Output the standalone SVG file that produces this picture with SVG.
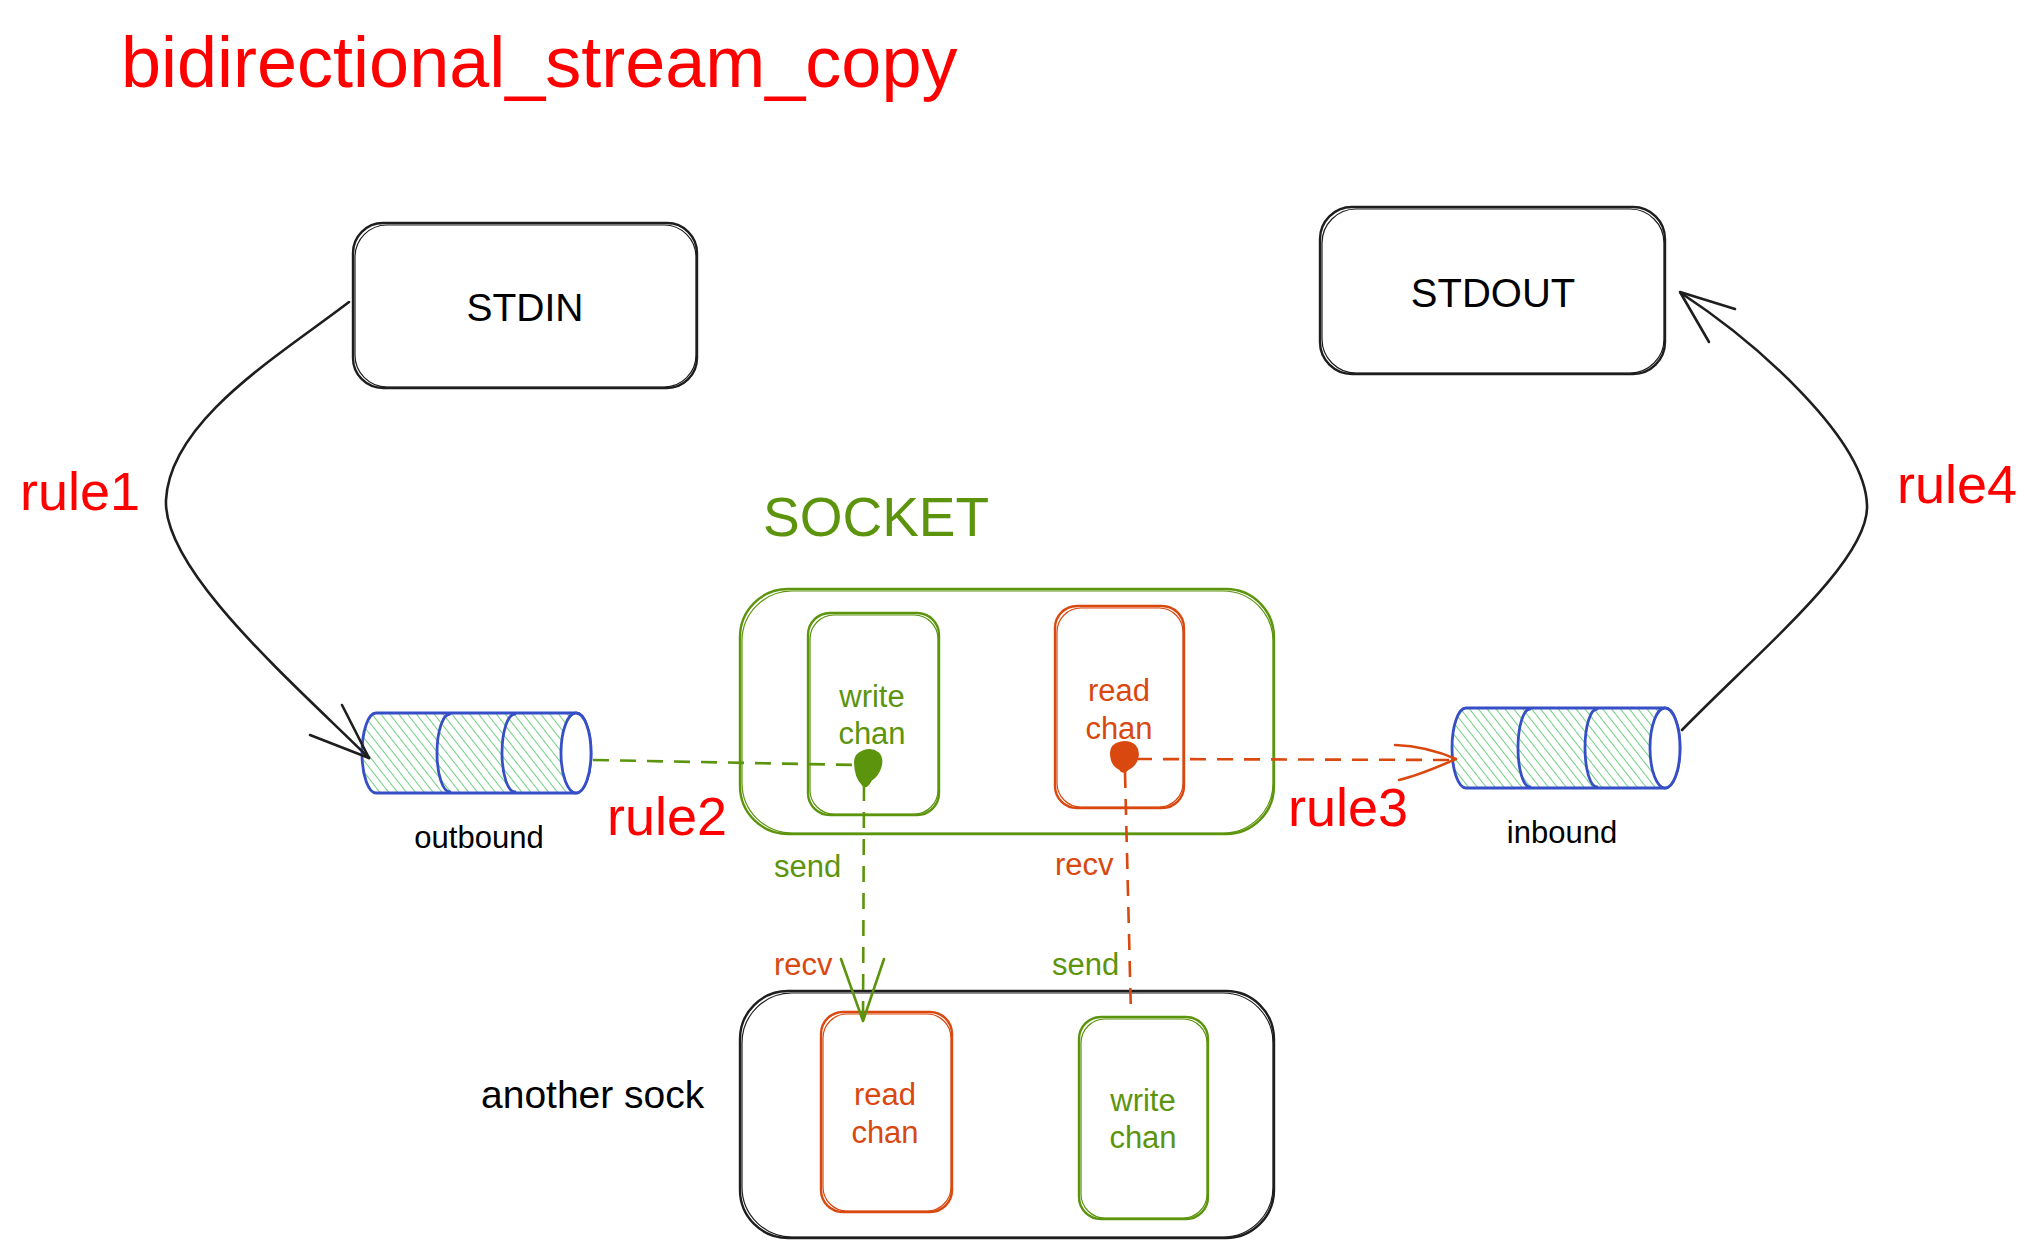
<svg xmlns="http://www.w3.org/2000/svg" width="2044" height="1258" viewBox="0 0 2044 1258">
<style>
text{font-family:"Liberation Sans",Arial,sans-serif}
.red{fill:#ff0000;font-size:54px}
.lbl{font-size:31px}
.g{fill:#5c940d}
.o{fill:#d9480f}
.k{fill:#000}
.box{fill:none;stroke-width:2.4;stroke-linecap:round;stroke-linejoin:round}
.box2{fill:none;stroke-width:1.2}
.bk{stroke:#1e1e1e}
.gs{stroke:#5c940d}
.os{stroke:#d9480f}
.cyl{stroke:#364fc7;stroke-width:2.8;stroke-linecap:round;stroke-linejoin:round}
.line{fill:none;stroke-width:2.6;stroke-linecap:round;stroke-linejoin:round}
.dash{fill:none;stroke-width:2.6;stroke-dasharray:16 11}
</style>
<defs>
<pattern id="hatch" width="7" height="10" patternUnits="userSpaceOnUse" patternTransform="rotate(-38)">
<line x1="0" y1="0" x2="0" y2="10" stroke="#40c057" stroke-width="1.5"/>
</pattern>
</defs>
<rect width="2044" height="1258" fill="#fff"/>

<text id="title" x="121" y="87" style="font-size:72px;fill:#ff0000">bidirectional_stream_copy</text>

<g id="stdin">
<rect class="box bk" x="353" y="223" width="344" height="165" rx="30"/>
<rect class="box2 bk" x="355" y="225" width="341" height="162" rx="32"/>
<text x="525" y="321" text-anchor="middle" style="font-size:39px" class="k">STDIN</text>
</g>

<g id="stdout">
<rect class="box bk" x="1320" y="207" width="345" height="167" rx="32"/>
<rect class="box2 bk" x="1322" y="209" width="342" height="164" rx="34"/>
<text x="1493" y="307" text-anchor="middle" style="font-size:40px" class="k">STDOUT</text>
</g>

<g id="socket">
<text x="763" y="536" style="font-size:55px" class="g">SOCKET</text>
<rect class="box gs" x="740" y="589" width="534" height="245" rx="48"/>
<rect class="box2 gs" x="742" y="591" width="531" height="242" rx="50"/>
</g>

<g id="socket-write-chan">
<rect class="box gs" x="808" y="613" width="131" height="202" rx="22"/>
<rect class="box2 gs" x="810" y="615" width="128" height="199" rx="24"/>
<text x="872" y="707" text-anchor="middle" class="lbl g">write</text>
<text x="872" y="744" text-anchor="middle" class="lbl g">chan</text>
</g>

<g id="socket-read-chan">
<rect class="box os" x="1055" y="606" width="129" height="202" rx="22"/>
<rect class="box2 os" x="1057" y="608" width="126" height="199" rx="24"/>
<text x="1119" y="701" text-anchor="middle" class="lbl o">read</text>
<text x="1119" y="739" text-anchor="middle" class="lbl o">chan</text>
</g>

<g id="another-sock">
<text x="481" y="1108" style="font-size:39px" class="k">another sock</text>
<rect class="box bk" x="740" y="991" width="534" height="247" rx="48"/>
<rect class="box2 bk" x="742" y="993" width="531" height="244" rx="50"/>
</g>

<g id="another-read-chan">
<rect class="box os" x="821" y="1012" width="131" height="200" rx="22"/>
<rect class="box2 os" x="823" y="1014" width="128" height="197" rx="24"/>
<text x="885" y="1105" text-anchor="middle" class="lbl o">read</text>
<text x="885" y="1143" text-anchor="middle" class="lbl o">chan</text>
</g>

<g id="another-write-chan">
<rect class="box gs" x="1079" y="1017" width="129" height="202" rx="22"/>
<rect class="box2 gs" x="1081" y="1019" width="126" height="199" rx="24"/>
<text x="1143" y="1111" text-anchor="middle" class="lbl g">write</text>
<text x="1143" y="1148" text-anchor="middle" class="lbl g">chan</text>
</g>

<g id="outbound">
<path d="M376 713 H576 A15 40 0 0 1 576 793 H376 A14 40 0 0 1 376 713 Z" fill="url(#hatch)" class="cyl"/>
<path d="M450 714 A13 39 0 0 0 450 792" fill="none" class="cyl"/>
<path d="M515 714 A13 39 0 0 0 515 792" fill="none" class="cyl"/>
<ellipse cx="576" cy="753" rx="15" ry="40" fill="#fff" class="cyl"/>
<text x="479" y="848" text-anchor="middle" class="lbl k">outbound</text>
</g>

<g id="inbound">
<path d="M1466 708 H1665 A15 40 0 0 1 1665 788 H1466 A14 40 0 0 1 1466 708 Z" fill="url(#hatch)" class="cyl"/>
<path d="M1530 709 A12 39 0 0 0 1530 787" fill="none" class="cyl"/>
<path d="M1597 709 A12 39 0 0 0 1597 787" fill="none" class="cyl"/>
<ellipse cx="1665" cy="748" rx="15" ry="40" fill="#fff" class="cyl"/>
<text x="1562" y="843" text-anchor="middle" class="lbl k">inbound</text>
</g>

<g id="connectors">
<path class="line bk" d="M349 302 C280 355 170 420 166 500 C163 570 290 680 369 758"/>
<path class="line bk" d="M310 735 L369 758 M342 705 L369 758"/>
<path class="line bk" d="M1682 730 C1760 650 1870 560 1867 505 C1865 440 1760 345 1681 293"/>
<path class="line bk" d="M1735 309 L1680 292 L1709 342"/>
<path class="dash gs" d="M593 760 L856 765"/>
<path class="dash gs" d="M864 785 L863 1020"/>
<path class="line gs" d="M841 959 L863 1021 L884 959"/>
<path d="M855 762 C855 751 870 747 878 753 C885 760 880 774 871 780 C869 784 866 788 863 785 C857 779 855 770 855 762 Z" fill="#5c940d" stroke="#5c940d" stroke-width="2"/>
<path class="dash os" d="M1136 759 L1454 760"/>
<path class="dash os" d="M1125 772 L1131 1015"/>
<path class="line os" d="M1395 745 C1420 746 1440 752 1456 759 C1440 766 1420 775 1399 780"/>
<path d="M1111 753 C1111 742 1127 739 1135 746 C1141 753 1137 765 1128 769 C1126 772 1122 773 1120 769 C1113 766 1111 760 1111 753 Z" fill="#d9480f" stroke="#d9480f" stroke-width="2"/>
</g>

<g id="labels">
<text x="20" y="510" class="red">rule1</text>
<text x="1897" y="503" class="red">rule4</text>
<text x="607" y="835" class="red">rule2</text>
<text x="1288" y="826" class="red">rule3</text>
<text x="774" y="877" class="lbl g">send</text>
<text x="1055" y="875" class="lbl o">recv</text>
<text x="774" y="975" class="lbl o">recv</text>
<text x="1052" y="975" class="lbl g">send</text>
</g>
</svg>
